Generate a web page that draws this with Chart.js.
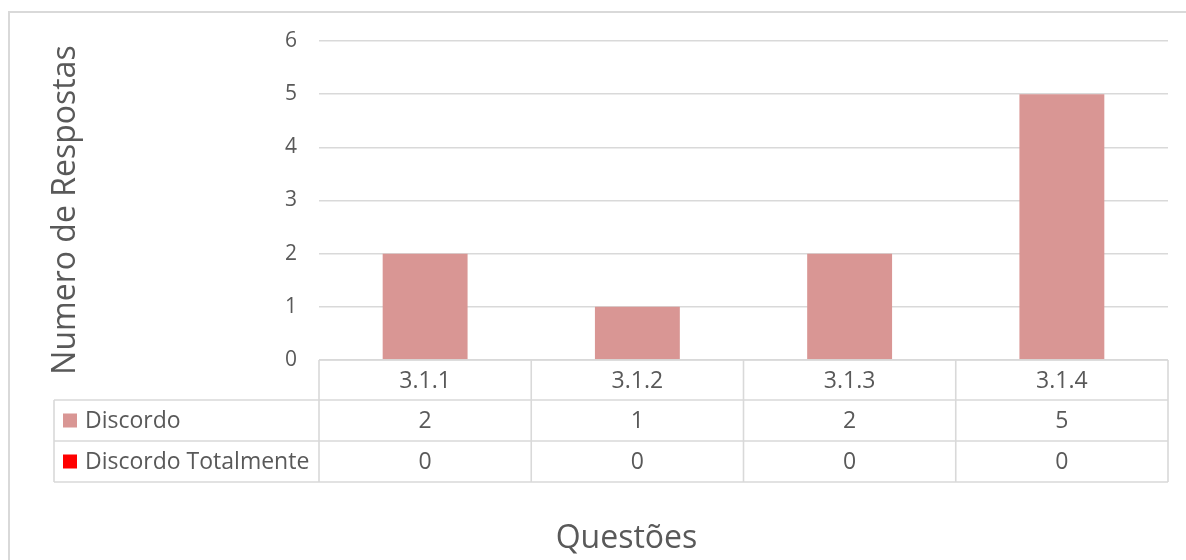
<!DOCTYPE html>
<html>
<head>
<meta charset="utf-8">
<script src="https://cdn.jsdelivr.net/npm/chart.js@4/dist/chart.umd.min.js"></script>
<style>
  html, body { margin: 0; padding: 0; background: #ffffff; }
  #wrap { width: 1186px; height: 560px; position: relative; }
</style>
</head>
<body>
<div id="wrap"><canvas id="c" width="1186" height="560"></canvas></div>
<script>
// Data
const categories = ['3.1.1', '3.1.2', '3.1.3', '3.1.4'];
const discordo = [2, 1, 2, 5];
const discordoTotalmente = [0, 0, 0, 0];
const seriesNames = ['Discordo', 'Discordo Totalmente'];
const yTicks = [0, 1, 2, 3, 4, 5, 6];
const xTitle = 'Questões';
const yTitle = 'Numero de Respostas';

const TEXT = '#595959';
const LINE = '#D9D9D9';
const FONT = "'Open Sans', 'DejaVu Sans', sans-serif";

// Data table beneath the plot, axis titles and outer frame
const tablePlugin = {
  id: 'dataTable',
  afterDraw(chart) {
    const ctx = chart.ctx;
    const x = chart.scales.x;
    const area = chart.chartArea;
    const rowH = 41;
    const top = area.bottom;
    const r1 = top + 40;
    const r2 = r1 + rowH;
    const r3 = r2 + rowH;
    const legendLeft = 54;
    const n = categories.length;
    const step = (area.right - area.left) / n;

    ctx.save();
    ctx.strokeStyle = LINE;
    ctx.lineWidth = 1.6;
    ctx.beginPath();
    // header row top
    ctx.moveTo(area.left, top); ctx.lineTo(area.right, top);
    // series rows
    [r1, r2, r3].forEach(yy => { ctx.moveTo(legendLeft, yy); ctx.lineTo(area.right, yy); });
    // column separators
    for (let i = 0; i <= n; i++) {
      const xx = area.left + step * i;
      ctx.moveTo(xx, top); ctx.lineTo(xx, r3);
    }
    ctx.moveTo(legendLeft, r1); ctx.lineTo(legendLeft, r3);
    ctx.stroke();

    ctx.fillStyle = TEXT;
    ctx.font = '23px ' + FONT;
    ctx.textAlign = 'center';
    ctx.textBaseline = 'middle';
    categories.forEach((c, i) => {
      const cx = x.getPixelForValue(i);
      ctx.fillText(c, cx, (top + r1) / 2 + 1);
    });
    chart.data.datasets.forEach((ds, di) => {
      const y0 = di === 0 ? r1 : r2;
      const cy = (y0 + y0 + rowH) / 2 + 1;
      ds.data.forEach((v, i) => {
        ctx.fillStyle = TEXT;
        ctx.textAlign = 'center';
        ctx.fillText(String(v), x.getPixelForValue(i), cy);
      });
      ctx.fillStyle = ds.backgroundColor;
      ctx.fillRect(63, cy - 8, 14, 14);
      ctx.fillStyle = TEXT;
      ctx.textAlign = 'left';
      ctx.fillText(ds.label, 85, cy);
    });

    // axis titles
    ctx.font = '32px ' + FONT;
    ctx.textAlign = 'center';
    ctx.textBaseline = 'middle';
    ctx.fillText(xTitle, (area.left + area.right) / 2 - 117, 539);
    ctx.save();
    ctx.translate(66, 210);
    ctx.rotate(-Math.PI / 2);
    ctx.fillText(yTitle, 0, 0);
    ctx.restore();

    // outer frame (left and top edges visible)
    ctx.strokeStyle = LINE;
    ctx.lineWidth = 2;
    ctx.beginPath();
    ctx.moveTo(9, 600); ctx.lineTo(9, 12); ctx.lineTo(1200, 12);
    ctx.stroke();
    ctx.restore();
  }
};

new Chart(document.getElementById('c'), {
  type: 'bar',
  data: {
    labels: categories,
    datasets: [
      { label: seriesNames[0], data: discordo, backgroundColor: '#D99694', borderWidth: 0 },
      { label: seriesNames[1], data: discordoTotalmente, backgroundColor: '#FF0000', borderWidth: 0 }
    ]
  },
  options: {
    responsive: false,
    animation: false,
    events: [],
    layout: { padding: { left: 0, top: 41, right: 18, bottom: 200 } },
    plugins: { legend: { display: false }, tooltip: { enabled: false } },
    datasets: { bar: { barPercentage: 0.4, categoryPercentage: 1 } },
    scales: {
      x: { stacked: true, display: false },
      y: {
        stacked: true,
        min: yTicks[0],
        max: yTicks[yTicks.length - 1],
        afterFit(s) { s.width = 319; },
        afterBuildTicks(s) { s.ticks = yTicks.map(v => ({ value: v })); },
        border: { display: false },
        grid: { color: LINE, lineWidth: 1.6, drawTicks: false },
        ticks: { color: TEXT, font: { family: FONT, size: 21 }, padding: 22 }
      }
    }
  },
  plugins: [tablePlugin]
});
</script>
</body>
</html>
